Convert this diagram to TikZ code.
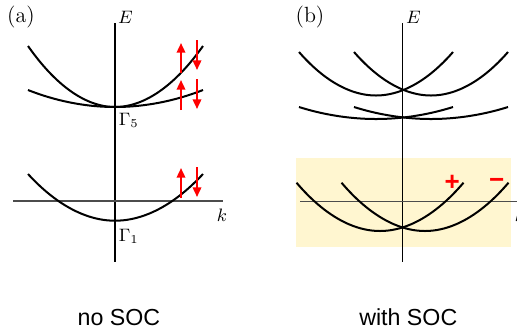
\documentclass[tikz,border=0pt]{standalone}
\usepackage{fontspec}
\setsansfont{Liberation Sans}
\usetikzlibrary{arrows.meta}
\definecolor{socbg}{RGB}{255,246,208}

\begin{document}
\begin{tikzpicture}[x=0.5pt,y=-0.5pt,
    band/.style={line width=1pt},
    axis/.style={line width=0.75pt},
    spin/.style={red, line width=1pt, -{Triangle[width=4.2pt,length=4.8pt]}},
    lbl/.style={font=\fontsize{9}{10}\selectfont, inner sep=0pt},
    panel/.style={font=\fontsize{11}{12}\selectfont, inner sep=0pt},
    caption/.style={font=\sffamily\fontsize{11.6}{13}\selectfont, inner sep=0pt, anchor=base},
    sign/.style={red, font=\sffamily\bfseries\fontsize{13}{13}\selectfont, inner sep=0pt}]
\useasboundingbox (0,0) rectangle (517,328);

% (a) no SOC
\draw[axis] (115,23) -- (115,262);
\draw[axis, black!70] (13,201) -- (223,201);
\node[panel] (pa) at (21,17) {(a)};
\node[lbl] (Ea) at (125.5,17.5) {$E$};
\node[lbl] (ka) at (222,215) {$k$};
\draw[band] (28,46) parabola bend (115,107) (203,46);
\draw[band] (28,90) parabola bend (115,107) (203,90);
\draw[band] (28,174) parabola bend (115,220.7) (203,174);
\node[lbl] (G5) at (128.7,120.5) {$\Gamma_5$};
\node[lbl] (G1) at (128.7,236.5) {$\Gamma_1$};
\foreach \y in {73,110,198}
    \draw[spin] (181,\y) -- ++(0,-30);
\foreach \y in {40,79,167}
    \draw[spin] (197,\y) -- ++(0,30);
\node[caption] (capa) at (119,325.3) {no SOC};

% (b) with SOC
\fill[socbg] (295.7,158.3) rectangle (510.7,247.3);
\draw[axis] (402.3,23) -- (402.3,262);
\draw[axis, black!70] (300,201.5) -- (530,201.5);
\node[panel] (pb) at (310,17) {(b)};
\node[lbl] (Eb) at (413.5,17.5) {$E$};
\node[lbl] (kb) at (520,215) {$k$};
\foreach \c in {376,431} {
    \draw[band] (\c-77,52) parabola bend (\c,95.5) (\c+77,52);
    \draw[band] (\c-77,107) parabola bend (\c,119) (\c+77,107);
}
\foreach \c in {380,425}
    \draw[band] (\c-83.5,182.7) parabola bend (\c,231) (\c+83.5,182.7);
\node[sign] (plus) at (452.3,183.3) {+};
\node[sign] (minus) at (496.7,183.3) {−};
\node[caption] (capb) at (408.3,325.3) {with SOC};
\end{tikzpicture}
\end{document}
